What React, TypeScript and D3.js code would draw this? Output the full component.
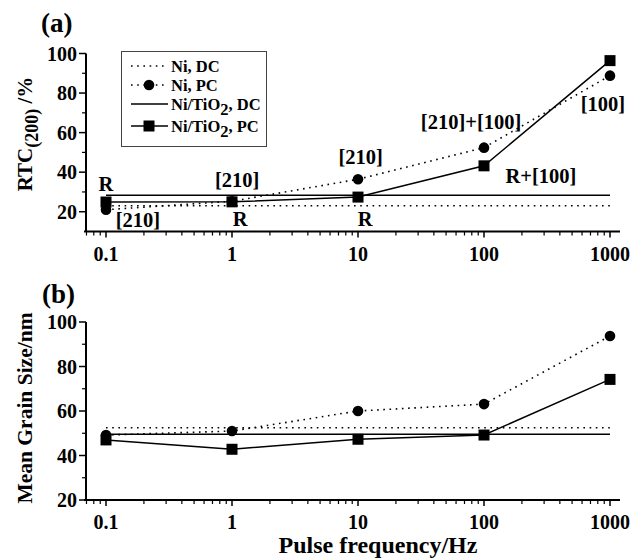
import React from 'react';
import * as d3 from 'd3';

// pulse frequencies (Hz)
const freqs = [0.1, 1, 10, 100, 1000];

// (a) RTC(200) in %
const rtcNiDC = [23, 23, 23, 23, 23];
const rtcNiPC = [21, 25.3, 36.4, 52.4, 88.8];
const rtcTiDC = [28.3, 28.3, 28.3, 28.3, 28.3];
const rtcTiPC = [24.9, 25, 27.4, 43.2, 96.4];

// (b) mean grain size in nm
const sizeNiDC = [52.5, 52.5, 52.5, 52.5, 52.5];
const sizeNiPC = [49.2, 51, 60, 63.1, 93.7];
const sizeTiDC = [49.5, 49.5, 49.5, 49.5, 49.5];
const sizeTiPC = [47, 42.8, 47.3, 49.2, 74.2];

const xTickLabels = ['0.1', '1', '10', '100', '1000'];
const yTicks = [20, 40, 60, 80, 100];
const yMinor = [30, 50, 70, 90];

// texture annotations on panel (a), anchored in data coordinates
const notes = [
  { f: 0.1, v: 34, text: 'R' },
  { f: 0.179, v: 15.8, text: '[210]' },
  { f: 1.1, v: 36, text: '[210]' },
  { f: 1.16, v: 16.3, text: 'R' },
  { f: 10.5, v: 47.7, text: '[210]' },
  { f: 11.4, v: 16.3, text: 'R' },
  { f: 79, v: 65.4, text: '[210]+[100]' },
  { f: 283, v: 38.1, text: 'R+[100]' },
  { f: 880, v: 74.5, text: '[100]' },
];

const FONT = '"Liberation Serif", "Times New Roman", serif';
const DOT = '1.6 4.6';

const x = d3.scaleLog().domain([0.1, 1000]).range([106, 610]);
const axisLeft = 86;
const axisRight = 620;
const minorX: number[] = [];
for (let e = -2; e <= 2; e++) {
  for (let m = 2; m <= 9; m++) {
    const v = m * Math.pow(10, e);
    const px = x(v);
    if (px >= axisLeft && px <= axisRight) minorX.push(v);
  }
}

function Panel({ y, top, bottom, series, children }: any) {
  const line = (vals: number[]) =>
    d3.line<number>().x((_, i) => x(freqs[i])).y((d) => y(d))(vals) as string;
  return (
    <g>
      {/* axes */}
      <line x1={axisLeft - 2} x2={axisRight} y1={bottom} y2={bottom} stroke="#000" strokeWidth={2} />
      <line x1={axisLeft} x2={axisLeft} y1={bottom} y2={top} stroke="#000" strokeWidth={2} />
      {freqs.map((f, i) => (
        <g key={f}>
          <line x1={x(f)} x2={x(f)} y1={bottom} y2={bottom + 6} stroke="#000" strokeWidth={1.5} />
          <text x={x(f)} y={bottom + 22} fontSize={20} fontWeight="bold" textAnchor="middle" dominantBaseline="central">
            {xTickLabels[i]}
          </text>
        </g>
      ))}
      {minorX.map((f) => (
        <line key={f} x1={x(f)} x2={x(f)} y1={bottom} y2={bottom + 4} stroke="#000" strokeWidth={1.2} />
      ))}
      {yTicks.map((t) => (
        <g key={t}>
          <line x1={axisLeft - 7} x2={axisLeft} y1={y(t)} y2={y(t)} stroke="#000" strokeWidth={1.5} />
          <text x={axisLeft - 9} y={y(t)} fontSize={20} fontWeight="bold" textAnchor="end" dominantBaseline="central">
            {t}
          </text>
        </g>
      ))}
      {yMinor.map((t) => (
        <line key={t} x1={axisLeft - 4} x2={axisLeft} y1={y(t)} y2={y(t)} stroke="#000" strokeWidth={1.2} />
      ))}
      {/* series */}
      <path d={line(series.niDC)} fill="none" stroke="#000" strokeWidth={1.6} strokeDasharray={DOT} />
      <path d={line(series.tiDC)} fill="none" stroke="#000" strokeWidth={1.5} />
      <path d={line(series.niPC)} fill="none" stroke="#000" strokeWidth={1.6} strokeDasharray={DOT} />
      <path d={line(series.tiPC)} fill="none" stroke="#000" strokeWidth={1.5} />
      {series.niPC.map((v: number, i: number) => (
        <circle key={'c' + i} cx={x(freqs[i])} cy={y(v)} r={5.3} fill="#000" />
      ))}
      {series.tiPC.map((v: number, i: number) => (
        <rect key={'s' + i} x={x(freqs[i]) - 5.5} y={y(v) - 5.5} width={11} height={11} fill="#000" />
      ))}
      {children}
    </g>
  );
}

export default function App() {
  const ya = d3.scaleLinear().domain([10, 100]).range([231.5, 53.5]);
  const yb = d3.scaleLinear().domain([20, 100]).range([500, 322]);

  const legendItems = [
    { label: 'Ni, DC', dotted: true, marker: null },
    { label: 'Ni, PC', dotted: true, marker: 'circle' },
    { label: 'Ni/TiO', sub: '2', tail: ', DC', dotted: false, marker: null },
    { label: 'Ni/TiO', sub: '2', tail: ', PC', dotted: false, marker: 'square' },
  ];
  const legendY = [66, 85, 104, 126];

  return (
    <svg
      width={638}
      height={558}
      style={{ position: 'absolute', left: 0, top: 0, background: '#fff' }}
      fontFamily={FONT}
    >
      <rect width={638} height={558} fill="#fff" />
      <text x={41} y={23} fontSize={27} fontWeight="bold" dominantBaseline="central">(a)</text>
      <text x={42} y={294} fontSize={27} fontWeight="bold" dominantBaseline="central">(b)</text>

      <Panel y={ya} top={53.5} bottom={231.5}
        series={{ niDC: rtcNiDC, niPC: rtcNiPC, tiDC: rtcTiDC, tiPC: rtcTiPC }}>
        {notes.map((n, i) => (
          <text key={i} x={x(n.f)} y={ya(n.v)} fontSize={20.5} fontWeight="bold" textAnchor="middle" dominantBaseline="central">
            {n.text}
          </text>
        ))}
        {/* legend */}
        <rect x={121.5} y={51.5} width={145} height={95} fill="#fff" stroke="#444" strokeWidth={1} />
        {legendItems.map((it, i) => (
          <g key={i}>
            <line x1={131} x2={168} y1={legendY[i]} y2={legendY[i]} stroke="#000"
              strokeWidth={1.5} strokeDasharray={it.dotted ? DOT : undefined} />
            {it.marker === 'circle' && <circle cx={149} cy={legendY[i]} r={5.3} fill="#000" />}
            {it.marker === 'square' && <rect x={143.5} y={legendY[i] - 5.5} width={11} height={11} fill="#000" />}
            <text x={171} y={legendY[i]} fontSize={16.5} fontWeight="bold" dominantBaseline="central">
              {it.label}
              {it.sub && <tspan dy={5}>{it.sub}</tspan>}
              {it.tail && <tspan dy={-5}>{it.tail}</tspan>}
            </text>
          </g>
        ))}
      </Panel>

      <Panel y={yb} top={322} bottom={500}
        series={{ niDC: sizeNiDC, niPC: sizeNiPC, tiDC: sizeTiDC, tiPC: sizeTiPC }} />

      {/* axis titles */}
      <text transform="translate(32,134) rotate(-90)" fontSize={21} fontWeight="bold" textAnchor="middle">
        RTC<tspan dy={6} fontSize={18}>(200)</tspan><tspan dy={-6}> /%</tspan>
      </text>
      <text transform="translate(32,408) rotate(-90)" fontSize={21.5} fontWeight="bold" textAnchor="middle">
        Mean Grain Size/nm
      </text>
      <text x={378} y={545} fontSize={24} fontWeight="bold" textAnchor="middle" dominantBaseline="central">
        Pulse frequency/Hz
      </text>
    </svg>
  );
}
